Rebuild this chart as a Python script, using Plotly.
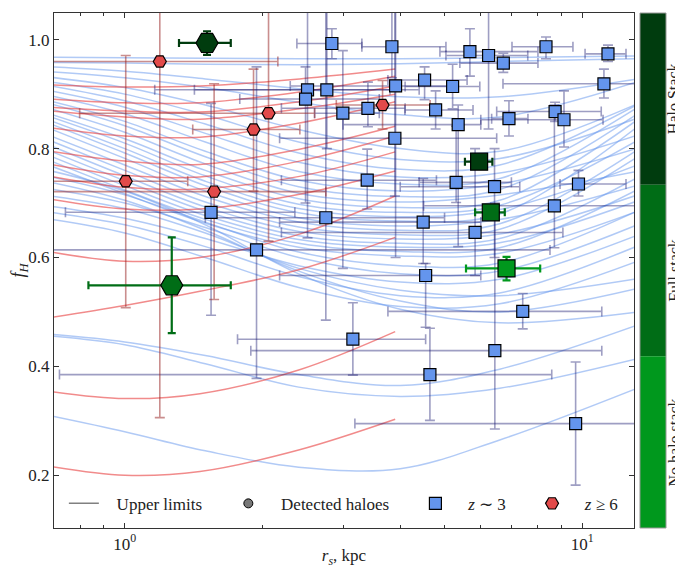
import plotly.graph_objects as go

# ---------------- data ----------------
# z ~ 3 detected haloes: r_s [kpc], f_H, and error-bar bounds
z3_rs = [2.836, 3.836, 5.68, 6.24, 6.72, 8.33, 11.38, 2.509, 2.765, 2.484, 3.908, 4.522, 5.207,
         2.997, 3.400, 4.78, 5.355, 6.914, 8.72, 9.12, 11.15, 3.894, 3.388, 5.30, 6.43, 9.81,
         8.69, 2.751, 4.49, 1.544, 5.83, 1.941, 4.546, 7.41, 3.152, 6.44, 4.645, 9.67]
z3_fh = [0.993, 0.987, 0.978, 0.971, 0.957, 0.987, 0.974, 0.908, 0.908, 0.891, 0.915, 0.926, 0.914,
         0.865, 0.874, 0.871, 0.844, 0.855, 0.868, 0.853, 0.919, 0.819, 0.742, 0.738, 0.730, 0.735,
         0.695, 0.673, 0.665, 0.683, 0.646, 0.614, 0.567, 0.501, 0.450, 0.429, 0.385, 0.295]
z3_rs_lo = [2.378, 3.298, 4.885, 5.035, 5.40, 7.02, 10.14, 1.163, 1.42, 1.784, 2.30, 3.76, 4.10,
            2.60, 2.20, 4.096, 3.00, 6.337, 6.50, 6.00, 6.709, 2.18, 2.20, 4.40, 4.00, 8.94,
            4.50, 1.50, 2.18, 0.742, 2.20, 0.60, 2.18, 3.76, 1.764, 1.886, 0.72, 3.184]
z3_rs_hi = [3.298, 5.035, 8.00, 7.60, 8.00, 9.54, 12.46, 3.80, 4.40, 3.60, 5.27, 5.60, 5.97,
            3.60, 4.10, 5.77, 6.00, 7.607, 11.0, 11.1, 14.0, 6.50, 4.80, 7.00, 7.30, 12.46,
            14.0, 5.00, 6.00, 2.354, 9.07, 8.50, 6.00, 11.03, 4.546, 11.03, 8.575, 14.0]
z3_fh_lo = [0.965, 0.930, 0.933, 0.836, 0.940, 0.965, 0.960, 0.636, 0.800, 0.700, 0.600, 0.890, 0.873,
            0.580, 0.840, 0.836, 0.620, 0.823, 0.850, 0.803, 0.893, 0.713, 0.689, 0.701, 0.600, 0.713,
            0.618, 0.485, 0.589, 0.494, 0.567, 0.378, 0.472, 0.469, 0.384, 0.285, 0.301, 0.182]
z3_fh_hi = [1.020, 1.080, 1.020, 1.080, 0.975, 1.005, 0.990, 1.080, 1.080, 0.950, 1.080, 0.950, 0.955,
            0.980, 0.922, 0.906, 0.880, 0.888, 0.885, 0.906, 0.946, 1.080, 0.799, 0.841, 0.800, 0.760,
            0.880, 1.080, 0.745, 0.883, 0.800, 0.950, 0.589, 0.534, 0.517, 0.700, 0.470, 0.408]

# z >= 6 detected haloes
z6_rs = [1.193, 1.005, 1.568, 1.912, 2.062, 3.66]
z6_fh = [0.960, 0.740, 0.721, 0.835, 0.865, 0.880]
z6_rs_lo = [0.60, 0.60, 0.60, 1.408, 0.797, 2.90]
z6_rs_hi = [2.161, 1.373, 2.751, 2.414, 2.60, 4.65]
z6_fh_lo = [0.306, 0.508, 0.523, 0.722, 0.630, 0.836]
z6_fh_hi = [1.080, 0.971, 0.919, 0.946, 1.080, 0.925]

# stacks: (halo stack, full stack, no halo stack)
stack_names = ["Halo Stack", "Full stack", "No halo stack"]
stack_colors = ["#003c0e", "#006d16", "#00981d"]
# z>=6 stacks (hexagons): halo stack, full stack
stack6_rs = [1.513, 1.267]
stack6_fh = [0.994, 0.549]
stack6_rs_lo = [1.314, 0.833]
stack6_rs_hi = [1.705, 1.705]
stack6_fh_lo = [0.972, 0.461]
stack6_fh_hi = [1.0155, 0.637]
# z~3 stacks (squares): halo, full, no halo
stack3_rs = [5.95, 6.31, 6.83]
stack3_fh = [0.776, 0.683, 0.580]
stack3_rs_lo = [5.54, 5.83, 5.57]
stack3_rs_hi = [6.36, 6.77, 8.09]
stack3_fh_lo = [0.773, 0.680, 0.558]
stack3_fh_hi = [0.779, 0.686, 0.601]

# upper-limit curves (f_H as function of r_s)
ul_rs_z3 = [0.69, 1.0, 1.5, 2.4, 4.0, 6.6, 13.0]
ul_fh_z3 = [
    [0.968, 0.967, 0.966, 0.965, 0.965, 0.967, 0.970],
    [0.958, 0.957, 0.955, 0.954, 0.956, 0.960, 0.965],
    [0.950, 0.942, 0.928, 0.910, 0.895, 0.895, 0.927],
    [0.941, 0.930, 0.912, 0.885, 0.862, 0.858, 0.921],
    [0.931, 0.912, 0.880, 0.835, 0.800, 0.795, 0.880],
    [0.922, 0.900, 0.862, 0.812, 0.780, 0.782, 0.854],
    [0.915, 0.888, 0.845, 0.792, 0.762, 0.770, 0.878],
    [0.906, 0.876, 0.828, 0.775, 0.748, 0.755, 0.823],
    [0.897, 0.864, 0.812, 0.758, 0.735, 0.745, 0.872],
    [0.887, 0.850, 0.795, 0.742, 0.722, 0.735, 0.799],
    [0.882, 0.842, 0.785, 0.730, 0.712, 0.725, 0.860],
    [0.873, 0.830, 0.772, 0.718, 0.702, 0.715, 0.757],
    [0.863, 0.818, 0.760, 0.708, 0.692, 0.705, 0.849],
    [0.858, 0.810, 0.750, 0.698, 0.683, 0.696, 0.812],
    [0.851, 0.800, 0.740, 0.690, 0.675, 0.688, 0.768],
    [0.845, 0.792, 0.732, 0.682, 0.667, 0.680, 0.836],
    [0.836, 0.782, 0.722, 0.673, 0.658, 0.670, 0.731],
    [0.823, 0.770, 0.712, 0.665, 0.650, 0.662, 0.794],
    [0.814, 0.760, 0.702, 0.656, 0.642, 0.652, 0.781],
    [0.805, 0.750, 0.693, 0.648, 0.634, 0.643, 0.713],
    [0.795, 0.741, 0.685, 0.640, 0.626, 0.635, 0.744],
    [0.786, 0.732, 0.677, 0.633, 0.619, 0.627, 0.702],
    [0.777, 0.724, 0.670, 0.626, 0.611, 0.618, 0.722],
    [0.768, 0.717, 0.663, 0.619, 0.603, 0.608, 0.683],
    [0.759, 0.722, 0.660, 0.570, 0.505, 0.480, 0.499],
    [0.748, 0.715, 0.665, 0.610, 0.585, 0.590, 0.683],
    [0.738, 0.705, 0.650, 0.575, 0.520, 0.500, 0.542],
    [0.726, 0.700, 0.655, 0.600, 0.570, 0.575, 0.658],
    [0.713, 0.690, 0.645, 0.580, 0.540, 0.530, 0.560],
    [0.694, 0.672, 0.635, 0.585, 0.555, 0.560, 0.639],
    [0.683, 0.660, 0.620, 0.565, 0.530, 0.535, 0.619],
    [0.670, 0.645, 0.600, 0.545, 0.510, 0.515, 0.591],
    [0.459, 0.445, 0.420, 0.385, 0.365, 0.395, 0.474],
    [0.456, 0.440, 0.405, 0.362, 0.345, 0.360, 0.413],
    [0.309, 0.280, 0.245, 0.215, 0.212, 0.265, 0.358],
]
ul_rs_z6 = [0.69, 1.0, 1.46, 2.41, 3.9]
ul_fh_z6 = [
    [0.917, 0.913, 0.915, 0.928, 0.946],
    [0.891, 0.884, 0.884, 0.904, 0.933],
    [0.876, 0.869, 0.867, 0.886, 0.915],
    [0.869, 0.858, 0.854, 0.873, 0.900],
    [0.838, 0.823, 0.821, 0.847, 0.886],
    [0.795, 0.777, 0.771, 0.799, 0.841],
    [0.771, 0.751, 0.748, 0.777, 0.823],
    [0.749, 0.729, 0.726, 0.749, 0.794],
    [0.707, 0.689, 0.689, 0.716, 0.759],
    [0.610, 0.593, 0.600, 0.643, 0.713],
    [0.490, 0.512, 0.538, 0.578, 0.637],
    [0.354, 0.341, 0.350, 0.394, 0.464],
    [0.216, 0.200, 0.207, 0.247, 0.303],
]

x_major = [1, 10]
x_major_text = ["10<sup>0</sup>", "10<sup>1</sup>"]
x_minor = [0.7, 0.8, 0.9, 2, 3, 4, 5, 6, 7, 8, 9]
y_major = [0.2, 0.4, 0.6, 0.8, 1.0]
y_major_text = ["0.2", "0.4", "0.6", "0.8", "1.0"]

# ---------------- styling ----------------
FONT = "Liberation Serif"
FS = 17
TXT = "#222222"
BLUE = "#6495ed"
RED = "#e24a4a"
BLUE_CURVE = "rgba(100,149,237,0.5)"
RED_CURVE = "rgba(232,62,62,0.6)"
BLUE_ERR = "rgba(25,25,112,0.42)"
RED_ERR = "rgba(150,30,30,0.5)"
NB = "&nbsp;"


def err(v, lo, hi):
    return dict(type="data", symmetric=False,
                array=[h - a for a, h in zip(v, hi)],
                arrayminus=[a - l for a, l in zip(v, lo)])


fig = go.Figure()

for ys in ul_fh_z3:
    fig.add_trace(go.Scatter(x=ul_rs_z3, y=ys, mode="lines", line=dict(color=BLUE_CURVE, width=1.5, shape="spline"),
                             showlegend=False, hoverinfo="skip"))
for ys in ul_fh_z6:
    fig.add_trace(go.Scatter(x=ul_rs_z6, y=ys, mode="lines", line=dict(color=RED_CURVE, width=1.5, shape="spline"),
                             showlegend=False, hoverinfo="skip"))

# error bars (drawn beneath markers)
fig.add_trace(go.Scatter(
    x=z3_rs, y=z3_fh, mode="markers", marker=dict(size=1, color="rgba(0,0,0,0)"),
    error_x=dict(err(z3_rs, z3_rs_lo, z3_rs_hi), color=BLUE_ERR, thickness=1.6, width=5),
    error_y=dict(err(z3_fh, z3_fh_lo, z3_fh_hi), color=BLUE_ERR, thickness=1.6, width=5),
    showlegend=False, hoverinfo="skip"))
fig.add_trace(go.Scatter(
    x=z6_rs, y=z6_fh, mode="markers", marker=dict(size=1, color="rgba(0,0,0,0)"),
    error_x=dict(err(z6_rs, z6_rs_lo, z6_rs_hi), color=RED_ERR, thickness=1.6, width=5),
    error_y=dict(err(z6_fh, z6_fh_lo, z6_fh_hi), color=RED_ERR, thickness=1.6, width=5),
    showlegend=False, hoverinfo="skip"))

# legend-only entries
fig.add_trace(go.Scatter(x=[None], y=[None], mode="lines", line=dict(color="#808080", width=1.5),
                         name=NB * 3 + "Upper limits" + NB * 5))
fig.add_trace(go.Scatter(x=[None], y=[None], mode="markers",
                         marker=dict(symbol="circle", size=9, color="#777777", line=dict(color="black", width=1)),
                         name=NB * 3 + "Detected haloes" + NB * 5))

# markers
fig.add_trace(go.Scatter(x=z3_rs, y=z3_fh, mode="markers", name=NB * 3 + "<i>z</i> ∼ 3" + NB * 5,
                         marker=dict(symbol="square", size=12, color=BLUE, line=dict(color="black", width=1.2))))
fig.add_trace(go.Scatter(x=z6_rs, y=z6_fh, mode="markers", name=NB * 3 + "<i>z</i> ≥ 6",
                         marker=dict(symbol="hexagon2", size=13, color=RED, line=dict(color="black", width=1.2))))

# stacks
for i in range(len(stack6_rs)):
    c = stack_colors[i]
    fig.add_trace(go.Scatter(
        x=[stack6_rs[i]], y=[stack6_fh[i]], mode="markers", showlegend=False,
        marker=dict(symbol="hexagon2", size=22, color=c, line=dict(color="black", width=1.2)),
        error_x=dict(type="data", symmetric=False, array=[stack6_rs_hi[i] - stack6_rs[i]],
                     arrayminus=[stack6_rs[i] - stack6_rs_lo[i]], color=c, thickness=2.2, width=4),
        error_y=dict(type="data", symmetric=False, array=[stack6_fh_hi[i] - stack6_fh[i]],
                     arrayminus=[stack6_fh[i] - stack6_fh_lo[i]], color=c, thickness=2.2, width=4)))
for i in range(len(stack3_rs)):
    c = stack_colors[i]
    fig.add_trace(go.Scatter(
        x=[stack3_rs[i]], y=[stack3_fh[i]], mode="markers", showlegend=False,
        marker=dict(symbol="square", size=17, color=c, line=dict(color="black", width=1.2)),
        error_x=dict(type="data", symmetric=False, array=[stack3_rs_hi[i] - stack3_rs[i]],
                     arrayminus=[stack3_rs[i] - stack3_rs_lo[i]], color=c, thickness=2.2, width=4),
        error_y=dict(type="data", symmetric=False, array=[stack3_fh_hi[i] - stack3_fh[i]],
                     arrayminus=[stack3_fh[i] - stack3_fh_lo[i]], color=c, thickness=2.2, width=4)))

# colour bar for the stacks (three equal bands)
shapes = []
for i, c in enumerate(stack_colors):
    y1 = 1 - i / 3
    y0 = 1 - (i + 1) / 3
    shapes.append(dict(type="rect", xref="paper", yref="paper", x0=1.0103, x1=1.0552, y0=y0, y1=y1,
                       fillcolor=c, line=dict(width=0), layer="above"))
shapes.append(dict(type="rect", xref="paper", yref="paper", x0=1.0103, x1=1.0552, y0=0, y1=1,
                   line=dict(color="#999999", width=1), layer="above"))
annotations = []
for i, name in enumerate(stack_names):
    annotations.append(dict(xref="paper", yref="paper", x=1.0695, y=1 - (i + 0.5) / 3, text=name,
                            textangle=-90, showarrow=False, xanchor="center", yanchor="middle",
                            font=dict(family=FONT, size=16, color=TXT)))

axis_common = dict(showline=True, linecolor="#333333", linewidth=1.3, mirror="allticks",
                   ticks="inside", ticklen=5, tickwidth=1, tickcolor="#333333",
                   showgrid=False, zeroline=False, automargin=False,
                   tickfont=dict(family=FONT, size=FS, color=TXT))

# the page places the figure 8 px in from the window's top-left corner
fig.update_layout(
    width=675, height=560,
    margin=dict(l=46, r=49, t=5, b=40),
    paper_bgcolor="white", plot_bgcolor="white",
    xaxis=dict(type="log", range=[-0.1546, 1.113], tickvals=x_major, ticktext=x_major_text,
               minor=dict(tickvals=x_minor, ticks="inside", ticklen=3, tickcolor="#333333"),
               title=dict(text="<i>r<sub>s</sub></i>, kpc", font=dict(family=FONT, size=FS, color=TXT),
                          standoff=2),
               **axis_common),
    yaxis=dict(range=[0.1033, 1.049], tickvals=y_major, ticktext=y_major_text,
               title=dict(text="<i>f<sub>H</sub></i>", font=dict(family=FONT, size=FS + 1, color=TXT),
                          standoff=1),
               **axis_common),
    legend=dict(orientation="h", x=0.017, y=0.012, xanchor="left", yanchor="bottom",
                bgcolor="rgba(0,0,0,0)", font=dict(family=FONT, size=FS, color=TXT),
                itemwidth=30, traceorder="normal"),
    shapes=shapes, annotations=annotations,
)

fig.write_html("out.html")
